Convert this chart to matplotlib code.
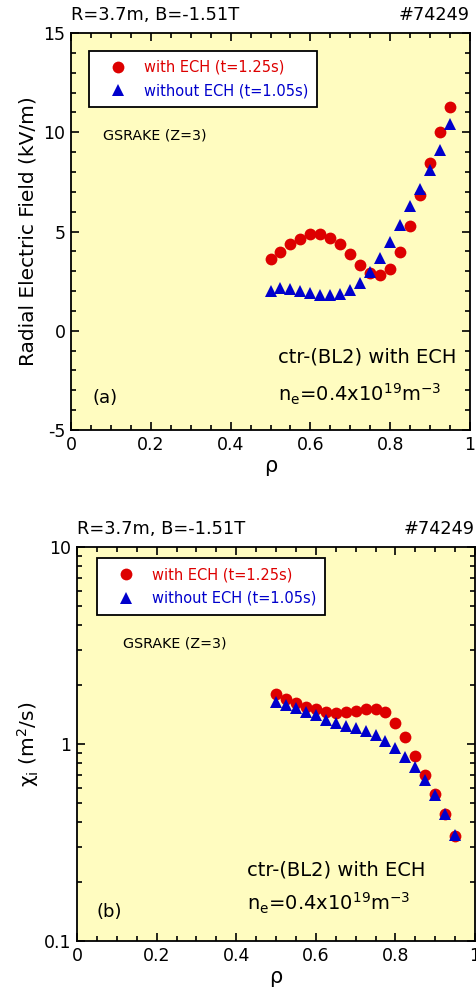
import matplotlib
matplotlib.use('Agg')
import matplotlib.pyplot as plt
from matplotlib.ticker import MultipleLocator, FixedLocator, FixedFormatter, LogLocator, NullFormatter

plt.rcParams['font.family'] = ['DejaVu Sans']
plt.rcParams['axes.unicode_minus'] = False
plt.rcParams['mathtext.default'] = 'regular'

# normalized radius
rho = [0.5, 0.525, 0.55, 0.575, 0.6, 0.625, 0.65, 0.675, 0.7, 0.725,
       0.75, 0.775, 0.8, 0.825, 0.85, 0.875, 0.9, 0.925, 0.95]

# radial electric field (kV/m)
er_ech = [3.63, 3.97, 4.35, 4.63, 4.85, 4.85, 4.68, 4.35, 3.85, 3.32,
          2.93, 2.80, 3.13, 3.98, 5.30, 6.85, 8.47, 10.02, 11.27]
er_noech = [1.98, 2.13, 2.10, 1.98, 1.88, 1.80, 1.80, 1.85, 2.07, 2.43,
            2.97, 3.67, 4.47, 5.35, 6.27, 7.13, 8.10, 9.10, 10.40]

# ion heat diffusivity (m^2/s)
chi_ech = [1.80, 1.70, 1.62, 1.55, 1.50, 1.46, 1.44, 1.45, 1.47, 1.50,
           1.51, 1.45, 1.28, 1.08, 0.87, 0.70, 0.56, 0.44, 0.34]
chi_noech = [1.63, 1.58, 1.53, 1.46, 1.40, 1.33, 1.28, 1.23, 1.20, 1.16,
             1.11, 1.04, 0.95, 0.86, 0.76, 0.66, 0.55, 0.44, 0.345]

label_ech = 'with ECH (t=1.25s)'
label_noech = 'without ECH (t=1.05s)'
red = '#DD0000'
blue = '#0000CC'
bg = '#FFFCC0'

W, H = 476, 994
fig = plt.figure(figsize=(W / 100, H / 100), dpi=100)


def make_axes(left, right, top, bottom):
    # pixel box -> figure fraction
    return fig.add_axes([left / W, 1 - bottom / H, (right - left) / W, (bottom - top) / H])


def style_axes(ax):
    ax.set_facecolor(bg)
    for s in ax.spines.values():
        s.set_linewidth(1.3)
    ax.tick_params(which='both', direction='in', top=True, right=True, labelsize=12.5, width=1.2)
    ax.tick_params(which='major', length=6, pad=4)
    ax.tick_params(which='minor', length=3.5)
    ax.set_xlim(0, 1)
    ax.xaxis.set_major_locator(FixedLocator([0, 0.2, 0.4, 0.6, 0.8, 1.0]))
    ax.xaxis.set_major_formatter(FixedFormatter(['0', '0.2', '0.4', '0.6', '0.8', '1']))
    ax.xaxis.set_minor_locator(MultipleLocator(0.05))
    ax.set_xlabel('ρ', fontsize=15, labelpad=2)
    ax.text(0.0, 1.045, 'R=3.7m, B=-1.51T', transform=ax.transAxes, fontsize=12.8,
            ha='left', va='center')
    ax.text(1.0, 1.045, '#74249', transform=ax.transAxes, fontsize=12.8,
            ha='right', va='center')


def add_legend(ax, anchor):
    leg = ax.legend(loc='upper left', bbox_to_anchor=anchor, borderaxespad=0,
                    fancybox=False, frameon=True, fontsize=10.5, handletextpad=0.4,
                    borderpad=0.6, labelspacing=0.6, handlelength=2.8)
    leg.get_frame().set_edgecolor('black')
    leg.get_frame().set_linewidth(1.3)
    leg.get_frame().set_facecolor('white')
    leg.get_frame().set_alpha(1)
    for t, c in zip(leg.get_texts(), [red, blue]):
        t.set_color(c)


# ---- (a) radial electric field
ax1 = make_axes(71, 470, 33, 430)
style_axes(ax1)
ax1.plot(rho, er_ech, 'o', color=red, markersize=8.5, markeredgewidth=0, label=label_ech)
ax1.plot(rho, er_noech, '^', color=blue, markersize=9, markeredgewidth=0, label=label_noech)
ax1.set_ylim(-5, 15)
ax1.yaxis.set_major_locator(MultipleLocator(5))
ax1.yaxis.set_minor_locator(MultipleLocator(1))
ax1.set_ylabel('Radial Electric Field (kV/m)', fontsize=14.5, labelpad=4)
add_legend(ax1, (0.045, 0.955))
ax1.text(0.08, 0.741, 'GSRAKE (Z=3)', transform=ax1.transAxes, fontsize=10.3, va='center')
ax1.text(0.519, 0.183, 'ctr-(BL2) with ECH', transform=ax1.transAxes, fontsize=14, va='center')
ax1.text(0.519, 0.09, 'n$_e$=0.4x10$^{19}$m$^{-3}$', transform=ax1.transAxes,
         fontsize=14, va='center')
ax1.text(0.055, 0.08, '(a)', transform=ax1.transAxes, fontsize=13, va='center')

# ---- (b) ion heat diffusivity
ax2 = make_axes(77, 475, 547, 941)
style_axes(ax2)
ax2.plot(rho, chi_ech, 'o', color=red, markersize=8.5, markeredgewidth=0, label=label_ech)
ax2.plot(rho, chi_noech, '^', color=blue, markersize=9, markeredgewidth=0, label=label_noech)
ax2.set_yscale('log')
ax2.set_ylim(0.1, 10)
ax2.yaxis.set_major_locator(FixedLocator([0.1, 1, 10]))
ax2.yaxis.set_major_formatter(FixedFormatter(['0.1', '1', '10']))
ax2.yaxis.set_minor_locator(LogLocator(base=10, subs=range(2, 10)))
ax2.yaxis.set_minor_formatter(NullFormatter())
ax2.set_ylabel('χ$_i$ (m$^2$/s)', fontsize=14.5, labelpad=2)
add_legend(ax2, (0.05, 0.971))
ax2.text(0.115, 0.756, 'GSRAKE (Z=3)', transform=ax2.transAxes, fontsize=10.3, va='center')
ax2.text(0.427, 0.179, 'ctr-(BL2) with ECH', transform=ax2.transAxes, fontsize=14, va='center')
ax2.text(0.427, 0.096, 'n$_e$=0.4x10$^{19}$m$^{-3}$', transform=ax2.transAxes,
         fontsize=14, va='center')
ax2.text(0.05, 0.073, '(b)', transform=ax2.transAxes, fontsize=13, va='center')

fig.savefig('out.png', dpi=100)
